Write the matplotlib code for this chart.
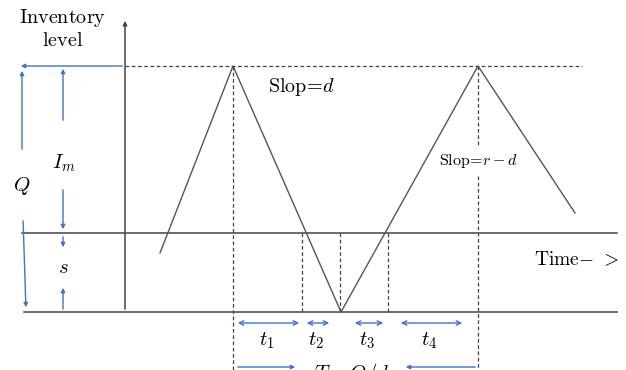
import matplotlib.pyplot as plt

plt.rcParams['mathtext.fontset'] = 'cm'

# inventory curve (diagram units = pixels, y grows downward)
curve_t = [160, 233, 341, 478, 575]
curve_level = [253, 66, 312, 66, 213]

# reference levels
level_Q = 66      # maximum inventory
level_zero = 233  # zero line
level_s = 312     # lowest (shortage)
x_axis_left = 125
x_right = 617

# time markers
t_peak1, t_cross1, t_bottom, t_cross2, t_peak2 = 233, 302, 340, 388, 478

# interval arrows under the time axis
interval_labels = [r'$t_1$', r'$t_2$', r'$t_3$', r'$t_4$']
interval_start = [235, 304, 352, 398]
interval_end = [302, 332, 386, 465]

blue = '#4472C4'
gray = '#444444'

fig = plt.figure(figsize=(6.26, 3.70), dpi=100)
ax = fig.add_axes([0, 0, 1, 1])
ax.set_xlim(0, 626)
ax.set_ylim(370, 0)
ax.axis('off')

# horizontal lines
ax.plot([22, x_right], [level_zero, level_zero], color=gray, lw=1.1)
ax.plot([24, x_right], [level_s, level_s], color=gray, lw=1.1)
ax.plot([x_axis_left, 582], [level_Q, level_Q], color=gray, lw=0.9, ls=(0, (3, 2)))

# vertical axis with arrow
ax.annotate('', xy=(x_axis_left, 18), xytext=(x_axis_left, level_s),
            arrowprops=dict(arrowstyle='-|>', color=gray, lw=1.1, mutation_scale=6))

# inventory curve
ax.plot(curve_t, curve_level, color='#555555', lw=1)

# dashed verticals
ax.plot([t_peak1, t_peak1], [level_Q, 370], color=gray, lw=0.9, ls=(0, (3, 2)))
ax.plot([t_peak2, t_peak2], [level_Q, 145], color=gray, lw=0.9, ls=(0, (3, 2)))
ax.plot([t_peak2, t_peak2], [176, 370], color=gray, lw=0.9, ls=(0, (3, 2)))
for xv in [t_cross1, t_bottom, t_cross2]:
    ax.plot([xv, xv], [level_zero, level_s], color=gray, lw=0.9, ls=(0, (3, 2)))

# text
ax.text(63, 18, r'$\mathrm{Inventory}$', fontsize=14.5, ha='center', va='center')
ax.text(63, 40, r'$\mathrm{level}$', fontsize=14.5, ha='center', va='center')
ax.text(302, 87, r'$\mathrm{Slop}\!=\!d$', fontsize=14.5, ha='center', va='center')
ax.text(479, 161, r'$\mathrm{Slop}\!=\!r-d$', fontsize=11.5, ha='center', va='center')
ax.text(577, 260, r'$\mathrm{Time}\!-\!\ >$', fontsize=14, ha='center', va='center')

# blue dimension arrows on the left
arw = dict(arrowstyle='-|>', color=blue, lw=1, mutation_scale=6)
ax.annotate('', xy=(18, level_Q), xytext=(x_axis_left, level_Q), arrowprops=arw)
ax.annotate('', xy=(22, 68), xytext=(22, 152), arrowprops=arw)
ax.annotate('', xy=(26, 310), xytext=(23, 218), arrowprops=arw)
ax.text(22, 186, r'$Q$', fontsize=15, ha='center', va='center')

ax.annotate('', xy=(63, level_Q), xytext=(63, 123), arrowprops=arw)
ax.annotate('', xy=(63, 232), xytext=(63, 187), arrowprops=arw)
ax.annotate('', xy=(63, 250), xytext=(63, 234), arrowprops=arw)
ax.annotate('', xy=(63, 285), xytext=(63, level_s), arrowprops=arw)
ax.text(64, 163, r'$I_m$', fontsize=15, ha='center', va='center')
ax.text(63, 267, r'$s$', fontsize=15, ha='center', va='center')

# interval arrows
darw = dict(arrowstyle='<->', color=blue, lw=1, mutation_scale=8)
for lab, a, b in zip(interval_labels, interval_start, interval_end):
    ax.annotate('', xy=(a, 323), xytext=(b, 323), arrowprops=darw)
    ax.text((a + b) / 2 - 2, 341, lab, fontsize=15, ha='center', va='center')

# cycle length
ax.annotate('', xy=(298, 367), xytext=(235, 367), arrowprops=arw)
ax.annotate('', xy=(403, 367), xytext=(478, 367), arrowprops=arw)
ax.text(352, 374, r'$T=Q/d$', fontsize=15, ha='center', va='center')

fig.savefig('out.png', dpi=100)
